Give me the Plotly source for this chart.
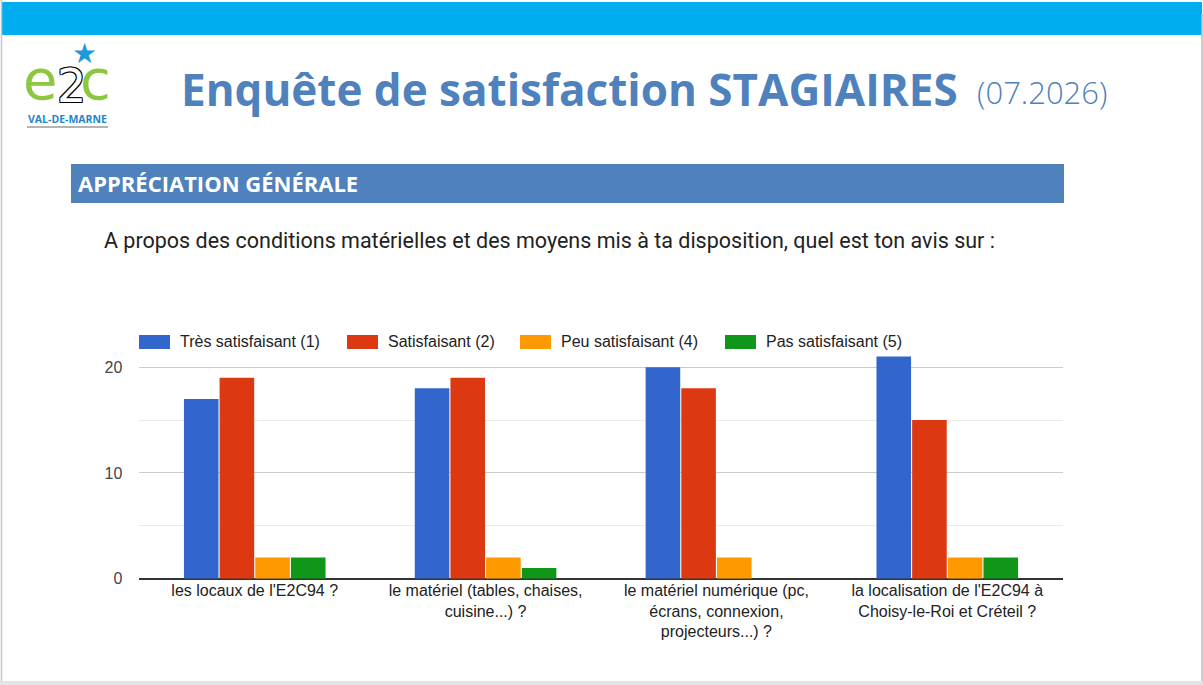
import plotly.graph_objects as go

W, H = 1203, 685
FIG_H = 694  # the capture squeezes the page a little vertically

# data
questions = [
    "les locaux de l'E2C94 ?",
    "le matériel (tables, chaises,<br>cuisine...) ?",
    "le matériel numérique (pc,<br>écrans, connexion,<br>projecteurs...) ?",
    "la localisation de l'E2C94 à<br>Choisy-le-Roi et Créteil ?",
]
series_names = ["Très satisfaisant (1)", "Satisfaisant (2)", "Peu satisfaisant (4)", "Pas satisfaisant (5)"]
tres_satisfaisant = [17, 18, 20, 21]
satisfaisant = [19, 19, 18, 15]
peu_satisfaisant = [2, 2, 2, 2]
pas_satisfaisant = [2, 1, 0, 2]
y_ticks = [0, 10, 20]

colors = ["#3366CC", "#DC3912", "#FF9900", "#109618"]
values = [tres_satisfaisant, satisfaisant, peu_satisfaisant, pas_satisfaisant]


def px(x):
    return x / W


def py(y):
    return 1 - y / H


fig = go.Figure()
for name, vals, col in zip(series_names, values, colors):
    fig.add_trace(go.Bar(x=questions, y=vals, name=name, marker_color=col,
                         marker_line_width=0, showlegend=False))

shapes = [
    # slide frame
    dict(type="rect", xref="paper", yref="paper", x0=px(2), x1=px(1202), y0=py(35), y1=py(2),
         fillcolor="#00AEEF", line_width=0, layer="below"),
    dict(type="line", xref="paper", yref="paper", x0=px(1.5), x1=px(1.5), y0=py(0), y1=py(681),
         line=dict(color="#c8c8c8", width=1.5)),
    dict(type="line", xref="paper", yref="paper", x0=px(1202), x1=px(1202), y0=py(14), y1=py(681),
         line=dict(color="#bdbdbd", width=1.5)),
    dict(type="rect", xref="paper", yref="paper", x0=0, x1=1, y0=py(685), y1=py(681),
         fillcolor="#e4e4e4", line_width=0),
    # section header
    dict(type="rect", xref="paper", yref="paper", x0=px(71), x1=px(1064), y0=py(203), y1=py(164),
         fillcolor="#4F81BD", line_width=0, layer="below"),
    # logo underline
    dict(type="line", xref="paper", yref="paper", x0=px(27), x1=px(108), y0=py(127), y1=py(127),
         line=dict(color="#9a9a9a", width=1.5)),
]

annotations = [
    dict(text="<b>Enquête de satisfaction STAGIAIRES</b>", x=px(179), y=py(89), xanchor="left", yanchor="middle",
         font=dict(family="Open Sans", size=44, color="#4F81BD", weight=800)),
    dict(text="(07.2026)", x=px(1109), y=py(92), xanchor="right", yanchor="middle",
         font=dict(family="Open Sans", size=31, color="#4F81BD", weight=300)),
    dict(text="<b>APPRÉCIATION GÉNÉRALE</b>", x=px(76), y=py(183), xanchor="left", yanchor="middle",
         font=dict(family="Open Sans", size=22, color="white")),
    dict(text="A propos des conditions matérielles et des moyens mis à ta disposition, quel est ton avis sur :",
         x=px(102), y=py(240), xanchor="left", yanchor="middle",
         font=dict(family="Roboto", size=21.5, color="#222222")),
    # logo
    dict(text="e", x=px(40), y=py(80), xanchor="center", yanchor="middle",
         font=dict(family="DejaVu Sans", size=56, color="#8DC63F")),
    dict(text="c", x=px(95), y=py(80), xanchor="center", yanchor="middle",
         font=dict(family="DejaVu Sans", size=56, color="#8DC63F")),
    dict(text="2", x=px(71), y=py(86), xanchor="center", yanchor="middle",
         font=dict(family="DejaVu Sans", size=46, color="white",
                   shadow="1px 1px 0 #000, -1px -1px 0 #000, 1px -1px 0 #000, -1px 1px 0 #000")),
    dict(text="★", x=px(84), y=py(54), xanchor="center", yanchor="middle",
         font=dict(family="DejaVu Sans", size=28, color="#1E9AD6")),
    dict(text="<b>VAL-DE-MARNE</b>", x=px(67), y=py(119), xanchor="center", yanchor="middle",
         font=dict(family="Open Sans", size=10.5, color="#1E88C8")),
]

# legend drawn as swatches + labels
legend_x = [139, 347, 520, 725]
for name, col, lx in zip(series_names, colors, legend_x):
    shapes.append(dict(type="rect", xref="paper", yref="paper", x0=px(lx), x1=px(lx + 31),
                       y0=py(349), y1=py(335), fillcolor=col, line_width=0))
    annotations.append(dict(text=name, x=px(lx + 39), y=py(342), xanchor="left", yanchor="middle",
                            font=dict(family="Arial", size=16, color="#222222")))

for a in annotations:
    a.update(xref="paper", yref="paper", showarrow=False)

fig.update_layout(
    width=W, height=FIG_H,
    margin=dict(l=0, r=0, t=0, b=0),
    paper_bgcolor="white", plot_bgcolor="white",
    barmode="group", bargap=0.382, bargroupgap=0.03,
    shapes=shapes, annotations=annotations,
    xaxis=dict(domain=[px(139.3), px(1062.7)], range=[-0.5, 3.5], showgrid=False, showline=False,
               ticks="", tickfont=dict(family="Arial", size=16, color="#222222"), tickangle=0),
    yaxis=dict(domain=[py(578.7), py(346)], range=[0, 22], tickvals=y_ticks,
               showgrid=True, gridcolor="#cccccc", gridwidth=1,
               zeroline=True, zerolinecolor="#333333", zerolinewidth=1.5,
               minor=dict(dtick=5, showgrid=True, gridcolor="#ebebeb", ticks=""),
               ticks="", ticklabelstandoff=16,
               tickfont=dict(family="Arial", size=16, color="#444444")),
)

# the page body has a default margin; drop it so the figure sits at the window corner
fig.write_html("out.html", config={"displayModeBar": False},
               post_script="document.body.style.margin='0';document.body.style.overflow='hidden';")
